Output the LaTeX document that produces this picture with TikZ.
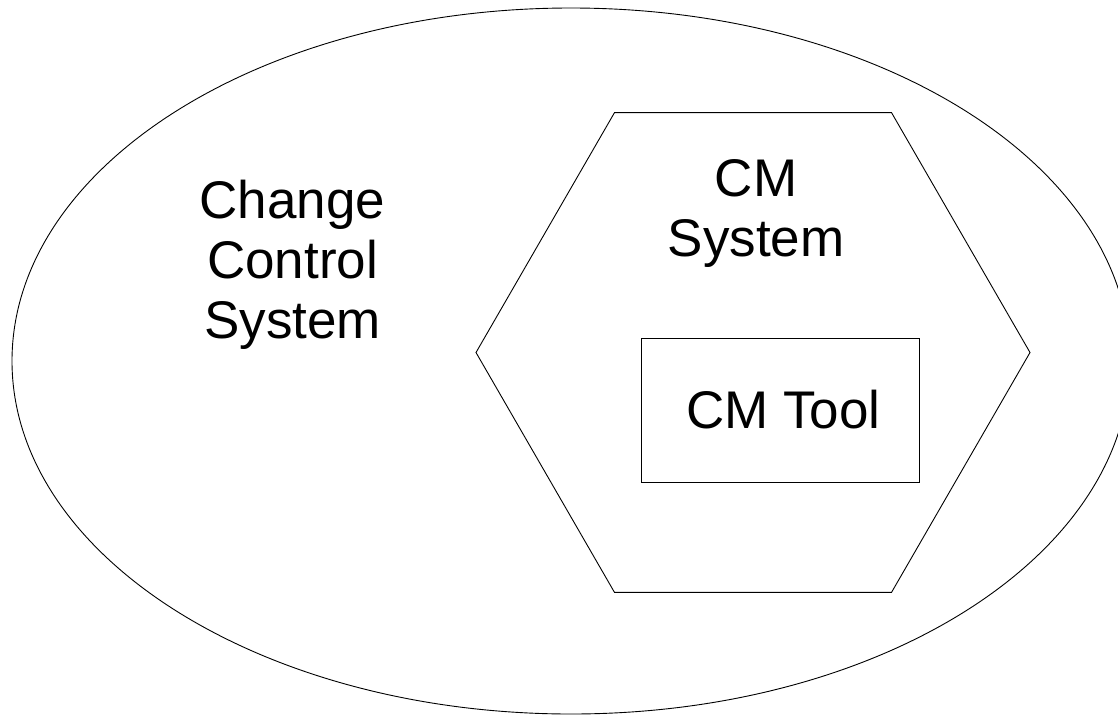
\documentclass[tikz,border=0pt]{standalone}
\usepackage{fontspec}
\setmainfont{Liberation Sans}
\usetikzlibrary{shapes.geometric}
\begin{document}
\begin{tikzpicture}[x=1pt,y=-1pt,
  outline/.style={draw=black,line width=0.9pt,inner sep=0pt,outer sep=0pt},
  big text/.style={font=\fontsize{53}{60}\selectfont,align=center,inner sep=0pt}]
\useasboundingbox[fill=white] (0,0) rectangle (1118,715);
\clip (0,0) rectangle (1118,715);
% outer change control system
\node[outline,ellipse,minimum width=1118pt,minimum height=706pt] (ccs) at (571,361) {};
% CM system hexagon
\node[outline,regular polygon,regular polygon sides=6,minimum size=554pt] (cms) at (753,352.5) {};
% CM tool box
\node[outline,rectangle,minimum width=278pt,minimum height=144pt,big text] (tool) at (780,410) {\hspace*{7pt}CM Tool};
% labels
\node[big text] (ccslabel) at (292.5,265) {Change\\Control\\System};
\node[big text] (cmslabel) at (756,213) {CM\\System};
\end{tikzpicture}
\end{document}
